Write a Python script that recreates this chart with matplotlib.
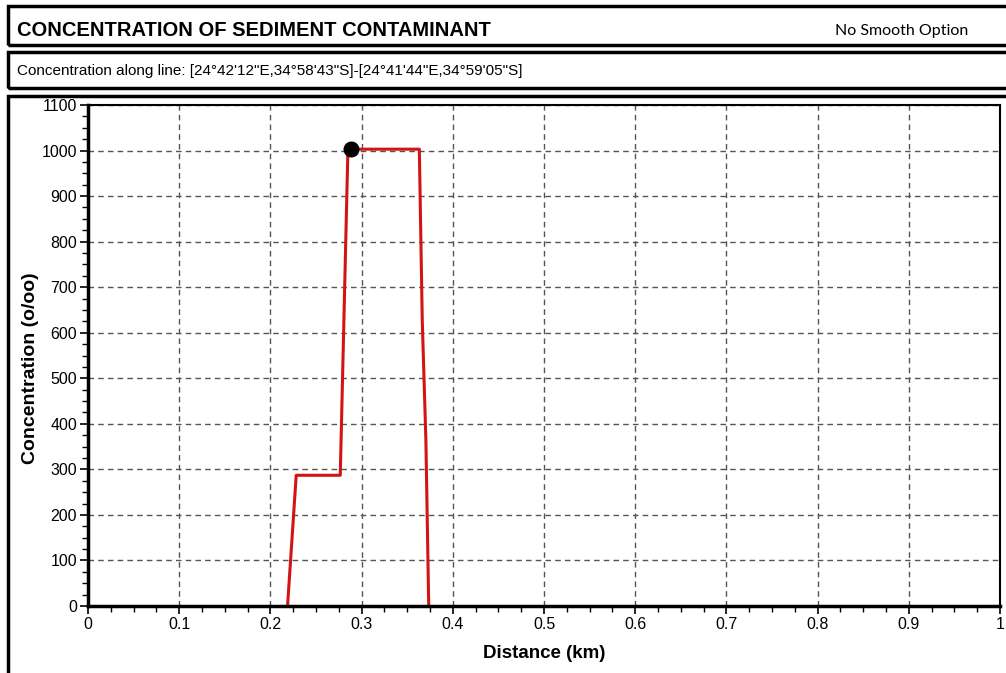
import matplotlib.pyplot as plt
from matplotlib.patches import Rectangle
from matplotlib.ticker import MultipleLocator

# Concentration profile along the transect
distance_km = [0.2188, 0.2283, 0.2766, 0.2806, 0.2850, 0.3633, 0.3665, 0.3705, 0.3736]
concentration = [0, 287, 287, 628, 1003, 1003, 628, 364, 0]

# Selected point
marker_x = [0.2884]
marker_y = [1003]

title = "CONCENTRATION OF SEDIMENT CONTAMINANT"
smooth_note = "No Smooth Option"
subtitle = "Concentration along line: [24\u00b042'12\"E,34\u00b058'43\"S]-[24\u00b041'44\"E,34\u00b059'05\"S]"

W, H = 1006, 673
fig = plt.figure(figsize=(W / 100, H / 100), dpi=100)
plt.rcParams['font.family'] = ['Liberation Sans', 'DejaVu Sans']


def px_rect(x0, y0, x1, y1, lw=2.5):
    # rectangle given in pixel coordinates measured from the top-left
    fig.patches.append(Rectangle((x0 / W, 1 - y1 / H), (x1 - x0) / W, (y1 - y0) / H,
                                 transform=fig.transFigure, fill=False,
                                 edgecolor='black', linewidth=lw))


px_rect(8, 6, 1012, 45)
px_rect(8, 52, 1012, 88)
px_rect(8, 96, 1012, 690)

fig.text(17 / W, 1 - 31 / H, title, fontsize=14.5, fontweight='bold', va='center', ha='left')
fig.text(968 / W, 1 - 31 / H, smooth_note, fontsize=11.5, va='center', ha='right', family=['Lato', 'DejaVu Sans'])
fig.text(17 / W, 1 - 71 / H, subtitle, fontsize=11, va='center', ha='left')

ax = fig.add_axes([88 / W, 1 - 606 / H, 912 / W, 501 / H])
ax.plot(distance_km, concentration, color='#d41414', linewidth=2.2, zorder=2)
ax.plot(marker_x, marker_y, 'o', color='black', markersize=10.5, zorder=4, clip_on=False)

ax.set_xlim(0, 1)
ax.set_ylim(0, 1100)
ax.xaxis.set_major_locator(MultipleLocator(0.1))
ax.xaxis.set_minor_locator(MultipleLocator(0.025))
ax.yaxis.set_major_locator(MultipleLocator(100))
ax.yaxis.set_minor_locator(MultipleLocator(25))
ax.set_xticks([i / 10 for i in range(11)])
ax.set_xticklabels(['0', '0.1', '0.2', '0.3', '0.4', '0.5', '0.6', '0.7', '0.8', '0.9', '1'])

ax.grid(which='major', color='#555555', linestyle=(0, (4, 3)), linewidth=1)
ax.tick_params(which='major', direction='out', length=6, width=1.2, labelsize=11.5, pad=2)
ax.tick_params(which='minor', direction='out', length=4, width=1)

for side in ('left', 'bottom'):
    ax.spines[side].set_linewidth(2.5)
for side in ('top', 'right'):
    ax.spines[side].set_linewidth(1.5)

ax.set_xlabel('Distance (km)', fontsize=13.5, fontweight='bold', labelpad=9)
ax.set_ylabel('Concentration (o/oo)', fontsize=14, fontweight='bold')
ax.yaxis.set_label_coords(-0.0537, 0.475)

fig.savefig('out.png', dpi=100)
